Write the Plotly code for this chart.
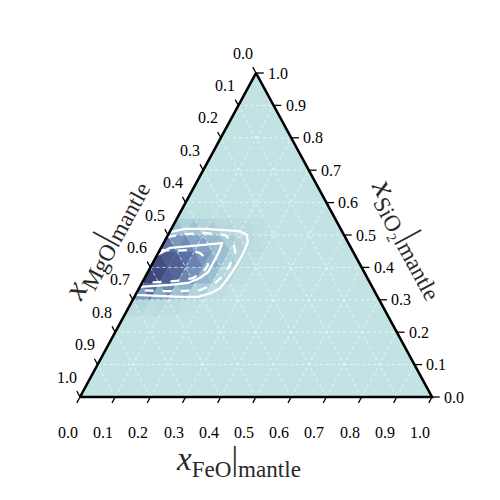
import plotly.graph_objects as go
from plotly.colors import sample_colorscale

# ternary ticks (same for all three axes)
tick_vals = [0.0, 0.1, 0.2, 0.3, 0.4, 0.5, 0.6, 0.7, 0.8, 0.9, 1.0]
tick_text = ['0.0', '0.1', '0.2', '0.3', '0.4', '0.5', '0.6', '0.7', '0.8', '0.9', '1.0']

# density on a 0.05 barycentric grid (FeO, SiO2 node coordinates), MgO = 1 - FeO - SiO2
grid_step = 0.05
dens_feo = [0.00, 0.05, 0.10, 0.15,
            0.00, 0.05, 0.10, 0.15, 0.20,
            0.00, 0.05, 0.10, 0.15, 0.20, 0.25,
            0.00, 0.05, 0.10, 0.15, 0.20, 0.25,
            0.00, 0.05, 0.10, 0.15, 0.20, 0.25,
            0.00, 0.05, 0.10]
dens_sio2 = [0.30, 0.30, 0.30, 0.30,
             0.35, 0.35, 0.35, 0.35, 0.35,
             0.40, 0.40, 0.40, 0.40, 0.40, 0.40,
             0.45, 0.45, 0.45, 0.45, 0.45, 0.45,
             0.50, 0.50, 0.50, 0.50, 0.50, 0.50,
             0.55, 0.55, 0.55]
dens_val = [0.14, 0.10, 0.06, 0.02,
            0.95, 0.80, 0.55, 0.28, 0.10,
            1.00, 0.85, 0.65, 0.40, 0.16, 0.04,
            0.75, 0.65, 0.50, 0.35, 0.16, 0.05,
            0.30, 0.30, 0.25, 0.16, 0.08, 0.06,
            0.03, 0.03, 0.03]

# credible-region contours (FeO, SiO2)
outer_solid_feo = [0.0, 0.039, 0.096, 0.154, 0.198, 0.224, 0.238, 0.242, 0.241, 0.237,
                   0.230, 0.212, 0.181, 0.130, 0.071, 0.027, 0.0]
outer_solid_sio2 = [0.509, 0.519, 0.519, 0.515, 0.512, 0.500, 0.478, 0.441, 0.404, 0.367,
                    0.336, 0.321, 0.309, 0.309, 0.312, 0.315, 0.315]
outer_dash_feo = [0.0, 0.047, 0.102, 0.162, 0.196, 0.217, 0.222, 0.218, 0.205, 0.176,
                  0.121, 0.064, 0.0]
outer_dash_sio2 = [0.494, 0.503, 0.506, 0.500, 0.478, 0.448, 0.407, 0.370, 0.346, 0.330,
                   0.327, 0.327, 0.330]
inner_solid_feo = [0.0, 0.026, 0.080, 0.133, 0.166, 0.171, 0.172, 0.171, 0.157, 0.131,
                   0.083, 0.028, 0.0]
inner_solid_sio2 = [0.438, 0.460, 0.466, 0.472, 0.475, 0.448, 0.417, 0.386, 0.367, 0.352,
                    0.346, 0.343, 0.340]
inner_dash_feo = [0.0, 0.045, 0.086, 0.119, 0.148, 0.160, 0.157, 0.137, 0.091, 0.036, 0.0]
inner_dash_sio2 = [0.454, 0.451, 0.454, 0.444, 0.426, 0.407, 0.386, 0.367, 0.358, 0.355, 0.352]

cmap = [[0.0, '#c2e2e3'], [0.15, '#a8cdd8'], [0.35, '#85a6c6'],
        [0.6, '#5b70a5'], [1.0, '#353a6d']]
bg_color = '#c2e2e3'
serif = 'Liberation Serif, Times New Roman, serif'


def tern(f, s):
    # FeO -> bottom-right corner, SiO2 -> top corner, MgO -> bottom-left corner
    return f + s / 2, s


def axis_title(comp):
    return '<i>x</i><sub>' + comp + '</sub>|<sub>mantle</sub>'


fig = go.Figure()

# triangle background
cx, cy = zip(*[tern(0, 0), tern(1, 0), tern(0, 1), tern(0, 0)])
fig.add_trace(go.Scatter(x=cx, y=cy, mode='lines', fill='toself', fillcolor=bg_color,
                         line=dict(width=0), hoverinfo='skip'))

# density cells
node = {(round(f / grid_step), round(s / grid_step)): v
        for f, s, v in zip(dens_feo, dens_sio2, dens_val)}
n = round(1 / grid_step)
for i in range(n):
    for j in range(n - i):
        cells = [[(i, j), (i + 1, j), (i, j + 1)]]
        if i + j + 2 <= n:
            cells.append([(i + 1, j), (i, j + 1), (i + 1, j + 1)])
        for cell in cells:
            v = sum(node.get(p, 0) for p in cell) / 3
            if v <= 0:
                continue
            pts = [tern(a * grid_step, b * grid_step) for a, b in cell + cell[:1]]
            xs, ys = zip(*pts)
            col = sample_colorscale(cmap, [min(v, 1)])[0]
            fig.add_trace(go.Scatter(x=xs, y=ys, mode='lines', fill='toself', fillcolor=col,
                                     line=dict(width=0.3, color=col), hoverinfo='skip'))

# dotted grid
gx, gy = [], []
for k in tick_vals[1:-1]:
    for a, b in [((0, k), (1 - k, k)), ((k, 0), (k, 1 - k)), ((1 - k, 0), (0, 1 - k))]:
        p, q = tern(*a), tern(*b)
        gx += [p[0], q[0], None]
        gy += [p[1], q[1], None]
fig.add_trace(go.Scatter(x=gx, y=gy, mode='lines', hoverinfo='skip',
                         line=dict(color='rgba(255,255,255,0.85)', width=0.8, dash='dot')))

# contours
for fs, ss, dash in [(outer_solid_feo, outer_solid_sio2, 'solid'),
                     (outer_dash_feo, outer_dash_sio2, 'dash'),
                     (inner_solid_feo, inner_solid_sio2, 'solid'),
                     (inner_dash_feo, inner_dash_sio2, 'dash')]:
    xs, ys = zip(*[tern(f, s) for f, s in zip(fs, ss)])
    fig.add_trace(go.Scatter(x=xs, y=ys, mode='lines', hoverinfo='skip',
                             line=dict(color='white', width=2.3, dash=dash)))

# ticks
tx, ty = [], []
t = 0.018
tick_font = dict(family=serif, size=16, color='black')
for k, lab in zip(tick_vals, tick_text):
    # bottom: FeO
    p = tern(k, 0)
    q = tern(k, -t)
    tx += [p[0], q[0], None]; ty += [p[1], q[1], None]
    fig.add_annotation(x=p[0], y=p[1], text=lab, showarrow=False, xshift=-12, yshift=-35,
                       font=tick_font)
    # right: SiO2
    p = tern(1 - k, k)
    q = tern(1 - k + 0.022, k)
    tx += [p[0], q[0], None]; ty += [p[1], q[1], None]
    fig.add_annotation(x=p[0], y=p[1], text=lab, showarrow=False, xanchor='left', xshift=10,
                       font=tick_font)
    # left: MgO
    p = tern(0, 1 - k)
    q = tern(-t, 1 - k + t)
    tx += [p[0], q[0], None]; ty += [p[1], q[1], None]
    fig.add_annotation(x=p[0], y=p[1], text=lab, showarrow=False, xshift=-13, yshift=20,
                       font=tick_font)
fig.add_trace(go.Scatter(x=tx, y=ty, mode='lines', hoverinfo='skip',
                         line=dict(color='black', width=1.3)))

# frame
fig.add_trace(go.Scatter(x=cx, y=cy, mode='lines', hoverinfo='skip',
                         line=dict(color='black', width=2.6)))

# axis titles
title_font = dict(family=serif, size=33, color='#2a2a2a')
fig.add_annotation(x=tern(0.5, 0)[0], y=0, xshift=-18, yshift=-64, showarrow=False,
                   font=title_font, text=axis_title('FeO'))
fig.add_annotation(x=tern(0, 0.45)[0], y=0.45, xshift=-54, yshift=12, showarrow=False,
                   font=title_font, textangle=-61.5, text=axis_title('MgO'))
fig.add_annotation(x=tern(0.55, 0.45)[0], y=0.45, xshift=57, yshift=13, showarrow=False,
                   font=title_font, textangle=61.5, text=axis_title('SiO₂'))

# the page body adds an 8 px offset, so the ranges start 8 px further in
fig.update_xaxes(range=[-72 / 352, 428 / 352], visible=False)
fig.update_yaxes(range=[-111 / 324, 389 / 324], visible=False)
fig.update_layout(width=500, height=500, margin=dict(l=0, r=0, t=0, b=0),
                  plot_bgcolor='white', paper_bgcolor='white', showlegend=False)

fig.write_html("out.html")
